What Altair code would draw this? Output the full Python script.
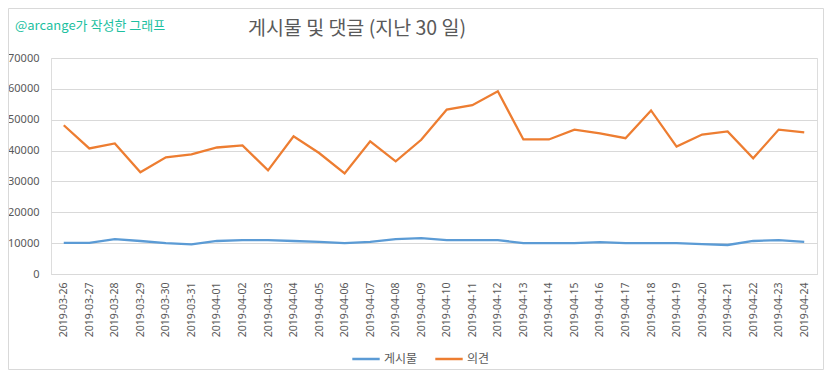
import altair as alt
import pandas as pd

dates = ["2019-03-26", "2019-03-27", "2019-03-28", "2019-03-29", "2019-03-30", "2019-03-31",
         "2019-04-01", "2019-04-02", "2019-04-03", "2019-04-04", "2019-04-05", "2019-04-06",
         "2019-04-07", "2019-04-08", "2019-04-09", "2019-04-10", "2019-04-11", "2019-04-12",
         "2019-04-13", "2019-04-14", "2019-04-15", "2019-04-16", "2019-04-17", "2019-04-18",
         "2019-04-19", "2019-04-20", "2019-04-21", "2019-04-22", "2019-04-23", "2019-04-24"]

posts = [10100, 10100, 11300, 10700, 10000, 9600, 10700, 11000, 11000, 10700,
         10400, 10000, 10400, 11300, 11600, 11000, 11000, 11000, 10000, 10000,
         10000, 10300, 10000, 10000, 10000, 9700, 9400, 10700, 11000, 10400]

comments = [48200, 40700, 42300, 33000, 37800, 38800, 41000, 41700, 33600, 44600,
            39200, 32600, 43000, 36500, 43500, 53300, 54700, 59200, 43600, 43600,
            46800, 45600, 44000, 53000, 41300, 45200, 46200, 37500, 46800, 45900]

series_names = ["게시물", "의견"]
series_colors = ["#5B9BD5", "#ED7D31"]
y_ticks = [0, 10000, 20000, 30000, 40000, 50000, 60000, 70000]

title_text = "게시물 및 댓글 (지난 30 일)"
credit_text = "@arcange가 작성한 그래프"

rows = []
for d, p, c in zip(dates, posts, comments):
    rows.append({"date": d, "series": series_names[0], "value": p})
    rows.append({"date": d, "series": series_names[1], "value": c})
df = pd.DataFrame(rows)

FONT = "Noto Sans CJK KR"
GRAY = "#595959"
W, H = 766, 216

lines = alt.Chart(df).mark_line(strokeWidth=2.3).encode(
    x=alt.X("date:N", sort=dates, title=None,
            scale=alt.Scale(paddingInner=0, paddingOuter=0.5),
            axis=alt.Axis(labelAngle=-90, labelAlign="right", labelBaseline="middle",
                          labelPadding=8, ticks=False, domain=True, domainColor="#D9D9D9",
                          labelFontSize=10.5, labelColor=GRAY, labelFont="Noto Sans",
                          grid=False)),
    y=alt.Y("value:Q", title=None,
            scale=alt.Scale(domain=[0, 70000], nice=False),
            axis=alt.Axis(values=y_ticks, format="d", ticks=False, domain=False,
                          labelPadding=12, labelFontSize=11, labelColor=GRAY,
                          labelFont="Noto Sans", gridColor="#D9D9D9", gridWidth=1)),
    color=alt.Color("series:N",
                    scale=alt.Scale(domain=series_names, range=series_colors),
                    legend=alt.Legend(title=None, orient="none", direction="horizontal",
                                      legendX=300, legendY=286,
                                      symbolType="stroke", symbolStrokeWidth=2.5,
                                      symbolSize=750, labelFontSize=12, labelColor=GRAY,
                                      labelFont=FONT, columnPadding=12, labelOffset=3)),
)

title_df = pd.DataFrame({"t": [title_text]})
title_mark = alt.Chart(title_df).mark_text(
    font=FONT, fontSize=19.5, color=GRAY, align="center", baseline="middle"
).encode(x=alt.value(306), y=alt.value(-29), text="t:N")

credit_df = pd.DataFrame({"t": [credit_text]})
credit_mark = alt.Chart(credit_df).mark_text(
    font=FONT, fontSize=13, color="#1DBF9F", align="left", baseline="middle"
).encode(x=alt.value(-36), y=alt.value(-32), text="t:N")

border_df = pd.DataFrame({"b": [1]})
border = alt.Chart(border_df).mark_rect(
    fill="transparent", stroke="#D9D9D9", strokeWidth=1
).encode(x=alt.value(-42.5), x2=alt.value(772.5), y=alt.value(-49.5), y2=alt.value(311.5))

chart = alt.layer(border, lines, title_mark, credit_mark).properties(
    width=W, height=H,
    autosize=alt.AutoSizeParams(type="none"),
    padding={"left": 43, "top": 50, "right": 7, "bottom": 96},
).configure_view(stroke=None).configure(font=FONT)

chart.save("out.html", embed_options={"renderer": "svg", "actions": False})
